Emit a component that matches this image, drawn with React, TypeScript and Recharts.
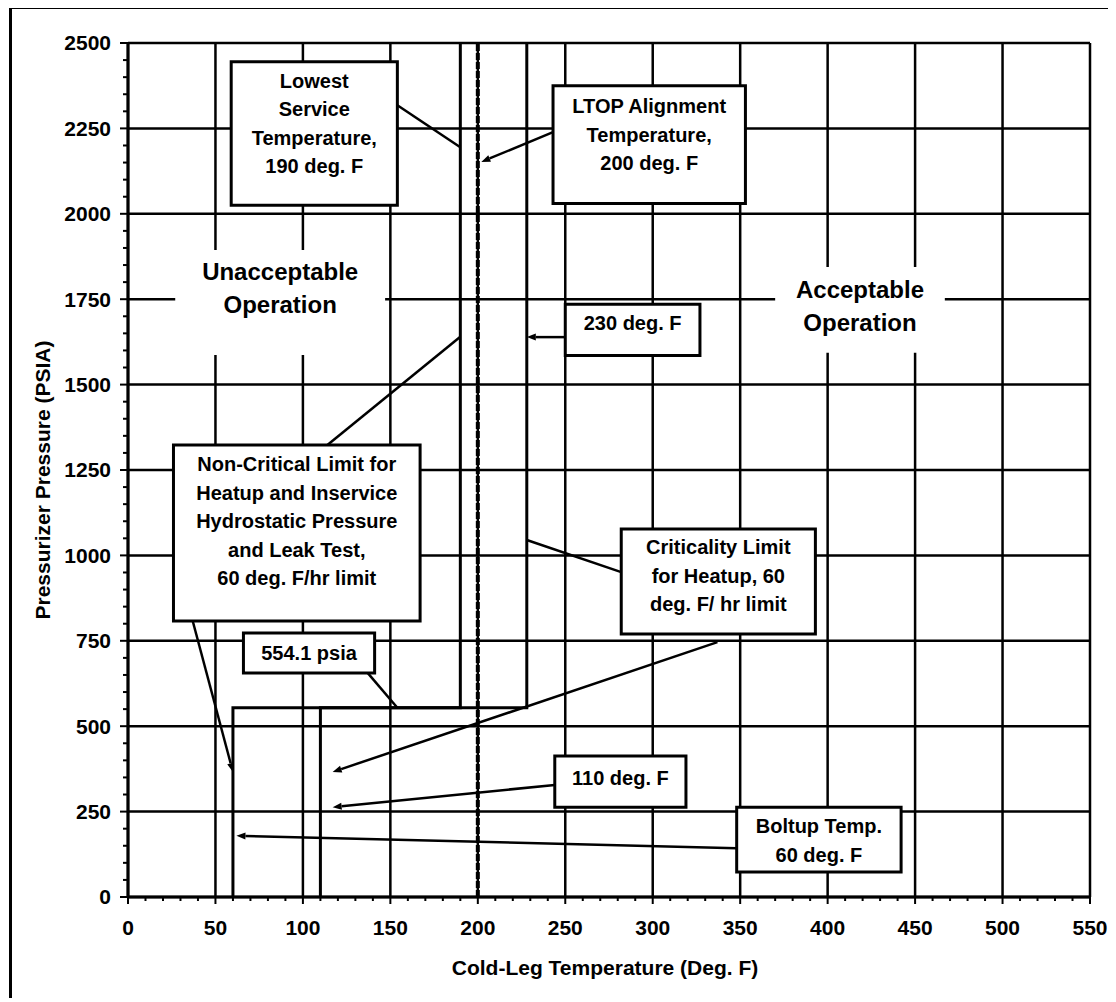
import React from 'react';
import { ComposedChart, Line, XAxis, YAxis, CartesianGrid, ReferenceArea, ReferenceLine } from 'recharts';

// axis ticks (major ones carry labels / grid lines)
const tempTicks = [0, 50, 100, 150, 200, 250, 300, 350, 400, 450, 500, 550];
const psiaTicks = [0, 250, 500, 750, 1000, 1250, 1500, 1750, 2000, 2250, 2500];
const tempMinor = Array.from({ length: 56 }, (_, i) => i * 10);
const psiaMinor = Array.from({ length: 51 }, (_, i) => i * 50);

// limit curves
const nonCriticalTemp = [60, 60, 190, 190];
const nonCriticalPsia = [0, 554.1, 554.1, 2500];
const criticalityTemp = [110, 110, 228, 228];
const criticalityPsia = [0, 554.1, 554.1, 2500];
const ltopTemp = [200, 200];
const ltopPsia = [0, 2500];

const toPoints = (t: number[], p: number[]) => t.map((temp, i) => ({ temp, psia: p[i] }));

const FONT = "'Liberation Sans', Arial, Helvetica, sans-serif";

// annotation boxes, placed in chart units
const notes = [
  { lines: ['Lowest', 'Service', 'Temperature,', '190 deg. F'], x1: 59, x2: 154, y1: 2025, y2: 2445, dy: -10 },
  { lines: ['LTOP Alignment', 'Temperature,', '200 deg. F'], x1: 243, x2: 353, y1: 2030, y2: 2375, dy: -10 },
  { lines: ['230 deg. F'], x1: 250, x2: 327, y1: 1585, y2: 1735, dy: -7 },
  { lines: ['Non-Critical Limit for', 'Heatup and Inservice', 'Hydrostatic Pressure', 'and Leak Test,', '60 deg. F/hr limit'], x1: 26, x2: 167, y1: 808, y2: 1323, dy: -12 },
  { lines: ['554.1 psia'], x1: 66, x2: 141, y1: 656, y2: 773, dy: 0 },
  { lines: ['Criticality Limit', 'for Heatup, 60', 'deg. F/ hr limit'], x1: 282, x2: 393, y1: 770, y2: 1077, dy: -6 },
  { lines: ['110 deg. F'], x1: 244, x2: 319, y1: 263, y2: 413, dy: -4 },
  { lines: ['Boltup Temp.', '60 deg. F'], x1: 348, x2: 442, y1: 73, y2: 263, dy: 1 },
];

const regions = [
  { lines: ['Unacceptable', 'Operation'], x1: 27, x2: 147, y1: 1587, y2: 1894, dy: -14 },
  { lines: ['Acceptable', 'Operation'], x1: 370, x2: 467, y1: 1593, y2: 1844, dy: -4 },
];

const leaders = [
  { from: [154, 2318], to: [190, 2195], arrow: false },
  { from: [243, 2239], to: [202, 2152], arrow: true },
  { from: [250, 1639], to: [228, 1639], arrow: true },
  { from: [114, 1323], to: [190, 1640], arrow: false },
  { from: [37, 808], to: [60, 366], arrow: true },
  { from: [137, 656], to: [154, 554.1], arrow: false },
  { from: [282, 951], to: [228, 1045], arrow: false },
  { from: [337, 746], to: [117, 366], arrow: true },
  { from: [244, 328], to: [117, 263], arrow: true },
  { from: [348, 143], to: [62, 179], arrow: true },
];

const boxText = (lines: string[], dy: number, size = 20, lh = 28.5) => (props: any) => {
  const { x, y, width, height } = props.viewBox;
  const cx = x + width / 2;
  const top = y + height / 2 + dy - ((lines.length - 1) * lh) / 2;
  return (
    <text textAnchor="middle" fontFamily={FONT} fontWeight="bold" fontSize={size} fill="#000">
      {lines.map((l, i) => (
        <tspan key={i} x={cx} y={top + i * lh} dy="0.35em">{l}</tspan>
      ))}
    </text>
  );
};

const leaderShape = (arrow: boolean) => (props: any) => {
  const { x1, y1, x2, y2 } = props;
  const ang = Math.atan2(y2 - y1, x2 - x1);
  const len = 9;
  const w = 3.5;
  const bx = x2 - len * Math.cos(ang);
  const by = y2 - len * Math.sin(ang);
  const px = -Math.sin(ang) * w;
  const py = Math.cos(ang) * w;
  return (
    <g>
      <line x1={x1} y1={y1} x2={arrow ? bx : x2} y2={arrow ? by : y2} stroke="#000" strokeWidth={2.5} />
      {arrow && <polygon points={`${x2},${y2} ${bx + px},${by + py} ${bx - px},${by - py}`} fill="#000" />}
    </g>
  );
};

const XTick = (props: any) => {
  const { x, y, payload } = props;
  const major = payload.value % 50 === 0;
  return (
    <g>
      <line x1={x} x2={x} y1={y} y2={y + (major ? 7 : 4)} stroke="#000" strokeWidth={2} />
      {major && (
        <text x={x} y={y + 31} dy="0.35em" textAnchor="middle" fontFamily={FONT} fontWeight="bold" fontSize={21} fill="#000">
          {payload.value}
        </text>
      )}
    </g>
  );
};

const YTick = (props: any) => {
  const { x, y, payload } = props;
  const major = payload.value % 250 === 0;
  return (
    <g>
      <line x1={x - (major ? 8 : 5)} x2={x} y1={y} y2={y} stroke="#000" strokeWidth={2} />
      {major && (
        <text x={x - 17} y={y} dy="0.35em" textAnchor="end" fontFamily={FONT} fontWeight="bold" fontSize={21} fill="#000">
          {payload.value}
        </text>
      )}
    </g>
  );
};

const xTitle = (props: any) => {
  const { x, y, width } = props.viewBox;
  return (
    <text x={x + width / 2 - 4} y={y + 71} dy="0.35em" textAnchor="middle" fontFamily={FONT} fontWeight="bold" fontSize={21} fill="#000">
      Cold-Leg Temperature (Deg. F)
    </text>
  );
};

const yTitle = (props: any) => {
  const { x, y, height } = props.viewBox;
  const cx = x + 15;
  const cy = y + height / 2 + 10;
  return (
    <text x={cx} y={cy} dy="0.35em" textAnchor="middle" transform={`rotate(-90, ${cx}, ${cy})`} fontFamily={FONT} fontWeight="bold" fontSize={21} fill="#000">
      Pressurizer Pressure (PSIA)
    </text>
  );
};

export default function App() {
  return (
    <div style={{ position: 'relative', width: 1100, height: 990 }}>
      <div style={{ position: 'absolute', left: 1, top: -2, width: 1099, height: 992, borderLeft: '3px solid #000', borderTop: '3px solid #000', boxSizing: 'border-box' }} />
      <ComposedChart width={1100} height={990} margin={{ top: 35, right: 18, left: 20, bottom: 21 }}>
        <CartesianGrid stroke="#000" strokeWidth={2.5} verticalValues={tempTicks} horizontalValues={psiaTicks} />
        <XAxis
          dataKey="temp"
          type="number"
          domain={[0, 550]}
          ticks={tempMinor}
          interval={0}
          height={80}
          tickSize={0}
          tickMargin={0}
          tickLine={false}
          tick={<XTick />}
          axisLine={{ stroke: '#000', strokeWidth: 3 }}
          label={xTitle}
        />
        <YAxis
          type="number"
          domain={[0, 2500]}
          ticks={psiaMinor}
          interval={0}
          width={100}
          tickSize={0}
          tickMargin={0}
          tickLine={false}
          tick={<YTick />}
          axisLine={{ stroke: '#000', strokeWidth: 3 }}
          label={yTitle}
        />
        <Line data={toPoints(nonCriticalTemp, nonCriticalPsia)} dataKey="psia" type="linear" stroke="#000" strokeWidth={3} dot={false} activeDot={false} isAnimationActive={false} />
        <Line data={toPoints(criticalityTemp, criticalityPsia)} dataKey="psia" type="linear" stroke="#000" strokeWidth={3} dot={false} activeDot={false} isAnimationActive={false} />
        <Line data={toPoints(ltopTemp, ltopPsia)} dataKey="psia" type="linear" stroke="#000" strokeWidth={4} strokeDasharray="7 2" dot={false} activeDot={false} isAnimationActive={false} />
        {leaders.map((l, i) => (
          <ReferenceLine
            key={`ld${i}`}
            segment={[{ x: l.from[0], y: l.from[1] }, { x: l.to[0], y: l.to[1] }]}
            stroke="#000"
            shape={leaderShape(l.arrow)}
          />
        ))}
        {regions.map((r, i) => (
          <ReferenceArea key={`rg${i}`} x1={r.x1} x2={r.x2} y1={r.y1} y2={r.y2} fill="#fff" fillOpacity={1} stroke="none" label={boxText(r.lines, r.dy, 24, 33)} />
        ))}
        {notes.map((n, i) => (
          <ReferenceArea key={`nt${i}`} x1={n.x1} x2={n.x2} y1={n.y1} y2={n.y2} fill="#fff" fillOpacity={1} stroke="#000" strokeWidth={3} label={boxText(n.lines, n.dy)} />
        ))}
      </ComposedChart>
    </div>
  );
}
